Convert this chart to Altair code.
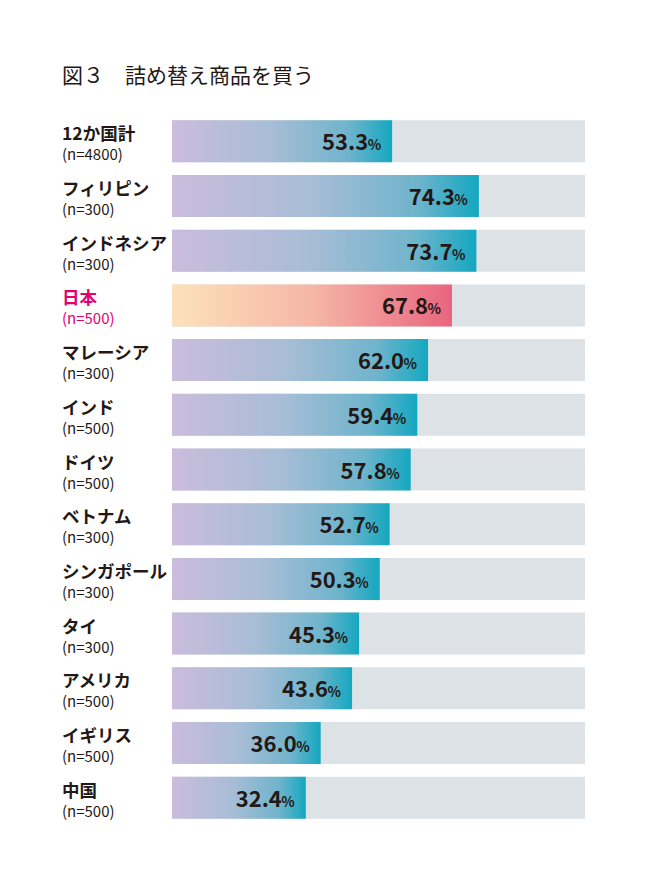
import altair as alt
import pandas as pd

countries = ["12か国計", "フィリピン", "インドネシア", "日本", "マレーシア", "インド", "ドイツ",
             "ベトナム", "シンガポール", "タイ", "アメリカ", "イギリス", "中国"]
samples = [4800, 300, 300, 500, 300, 500, 500, 300, 300, 300, 500, 500, 500]
values = [53.3, 74.3, 73.7, 67.8, 62.0, 59.4, 57.8, 52.7, 50.3, 45.3, 43.6, 36.0, 32.4]
highlight = "日本"

df = pd.DataFrame({
    "country": countries,
    "n": [f"(n={s})" for s in samples],
    "value": values,
    "label": [f"{v:.1f}" for v in values],
    "full": [100] * len(values),
    "hl": [c == highlight for c in countries],
})

FONT = "Noto Sans CJK JP"
DARK = "#231815"
PINK = "#e4006e"

y = alt.Y("country:N", sort=countries, axis=None,
          scale=alt.Scale(paddingInner=0.232, paddingOuter=0.116))
x_scale = alt.Scale(domain=[0, 100], nice=False, zero=True)

base = alt.Chart(df)

bg = base.mark_bar(color="#dde2e6").encode(
    x=alt.X("full:Q", scale=x_scale, axis=None), y=y)

teal_grad = alt.Gradient(
    gradient="linear", x1=0, x2=1, y1=0, y2=0,
    stops=[alt.GradientStop(color="#cbbcdc", offset=0),
           alt.GradientStop(color="#a8bdd6", offset=0.45),
           alt.GradientStop(color="#6fb4cc", offset=0.8),
           alt.GradientStop(color="#13a8c0", offset=1)])
pink_grad = alt.Gradient(
    gradient="linear", x1=0, x2=1, y1=0, y2=0,
    stops=[alt.GradientStop(color="#fde1bb", offset=0),
           alt.GradientStop(color="#f5b7a6", offset=0.5),
           alt.GradientStop(color="#e9657f", offset=1)])

bars = base.transform_filter("!datum.hl").mark_bar(color=teal_grad).encode(
    x=alt.X("value:Q", scale=x_scale, axis=None), y=y)
bars_hl = base.transform_filter("datum.hl").mark_bar(color=pink_grad).encode(
    x=alt.X("value:Q", scale=x_scale, axis=None), y=y)

num = base.mark_text(font=FONT, fontSize=22, fontWeight="bold", align="right",
                     baseline="alphabetic", dx=-24, dy=9, color=DARK).encode(
    x=alt.X("value:Q", scale=x_scale), y=y, text="label:N")
pct = base.mark_text(font=FONT, fontSize=14, fontWeight="bold", align="right",
                     baseline="alphabetic", dx=-11, dy=9, color=DARK).encode(
    x=alt.X("value:Q", scale=x_scale), y=y, text=alt.value("%"))

name = base.mark_text(font=FONT, fontSize=17.5, fontWeight="bold", align="left",
                      baseline="alphabetic", dy=-1).encode(
    x=alt.value(-110), y=y, text="country:N",
    color=alt.condition("datum.hl", alt.value(PINK), alt.value(DARK)))
nlab = base.mark_text(font=FONT, fontSize=15, align="left",
                      baseline="alphabetic", dy=19).encode(
    x=alt.value(-110), y=y, text="n:N",
    color=alt.condition("datum.hl", alt.value(PINK), alt.value(DARK)))

chart = alt.layer(bg, bars, bars_hl, num, pct, name, nlab).properties(
    width=413, height=711,
    background="white",
    autosize=alt.AutoSizeParams(type="none"),
    padding={"left": 164, "top": 106, "right": 50, "bottom": 40},
    title=alt.TitleParams("図３　詰め替え商品を買う", anchor="start", frame="group",
                          dx=-110, offset=27, font=FONT, fontSize=21,
                          fontWeight="normal", color=DARK),
).configure_view(stroke=None, strokeWidth=0)

chart.save("out.html", embed_options={"renderer": "svg", "actions": False})
